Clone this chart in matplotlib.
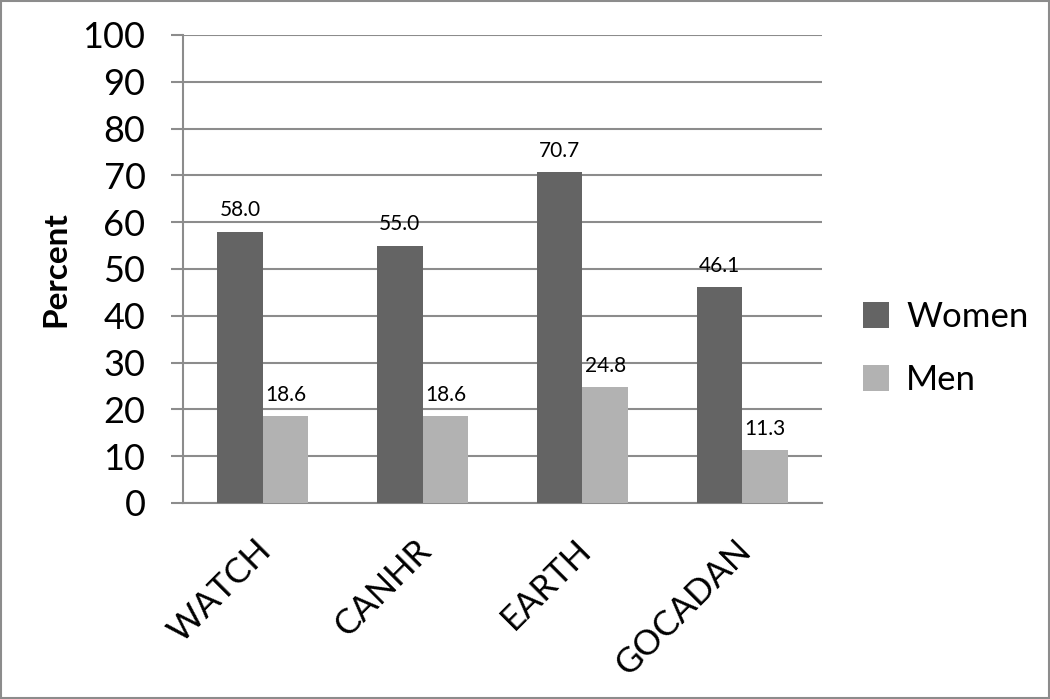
import matplotlib
matplotlib.use("Agg")
import matplotlib.pyplot as plt
import matplotlib.transforms as mtransforms
import numpy as np
from matplotlib.patches import Rectangle

categories = ["WATCH", "CANHR", "EARTH", "GOCADAN"]
women = [58.0, 55.0, 70.7, 46.1]
men = [18.6, 18.6, 24.8, 11.3]
yticks = [0, 10, 20, 30, 40, 50, 60, 70, 80, 90, 100]

plt.rcParams['font.family'] = ['Lato', 'DejaVu Sans']

fig = plt.figure(figsize=(10.5, 6.99), dpi=100)
ax = fig.add_axes([183/1050, 1-503/699, (822-183)/1050, (503-35)/699])

x = np.arange(len(categories))
w = 0.285
dark = "#646464"
light = "#b2b2b2"
b1 = ax.bar(x - w/2, women, w, color=dark, label="Women", zorder=3)
b2 = ax.bar(x + w/2, men, w, color=light, label="Men", zorder=3)

for bars, vals in ((b1, women), (b2, men)):
    for r, v in zip(bars, vals):
        ax.annotate(f"{v:.1f}", (r.get_x() + r.get_width()/2, v),
                    xytext=(0, 8), textcoords="offset points",
                    ha="center", va="bottom", fontsize=15)

ax.set_xlim(-0.5, len(categories) - 0.5)
ax.set_ylim(0, 100)
ax.set_yticks(yticks)
ax.set_yticklabels([str(t) for t in yticks], fontsize=26)
ax.yaxis.grid(True, color="#8c8c8c", linewidth=1.5, zorder=0)
ax.set_axisbelow(True)
ax.tick_params(axis="y", length=9, width=1.5, color="#8c8c8c", pad=18)
ax.tick_params(axis="x", length=0, pad=22)
ax.set_xticks(x)
ax.set_xticklabels(categories, fontsize=25, rotation=45, ha="right",
                   rotation_mode="anchor")
offset = mtransforms.ScaledTranslation(-8/100, 0, fig.dpi_scale_trans)
for lbl in ax.get_xticklabels():
    lbl.set_transform(lbl.get_transform() + offset)
for s in ("top", "right"):
    ax.spines[s].set_visible(False)
for s in ("left", "bottom"):
    ax.spines[s].set_color("#8c8c8c")
    ax.spines[s].set_linewidth(1.5)

ax.set_ylabel("Percent", fontsize=24, fontweight="bold", labelpad=9)

leg = ax.legend(loc="center left", bbox_to_anchor=(1.064, 0.33), frameon=False,
                fontsize=25, handlelength=0.75, handleheight=0.75,
                handletextpad=0.5, labelspacing=0.9, borderpad=0,
                borderaxespad=0)

fig.add_artist(Rectangle((0.001, 0.001), 0.998, 0.998, transform=fig.transFigure,
                         fill=False, edgecolor="#8c8c8c", linewidth=1.5))

fig.savefig("out.png", dpi=100)
